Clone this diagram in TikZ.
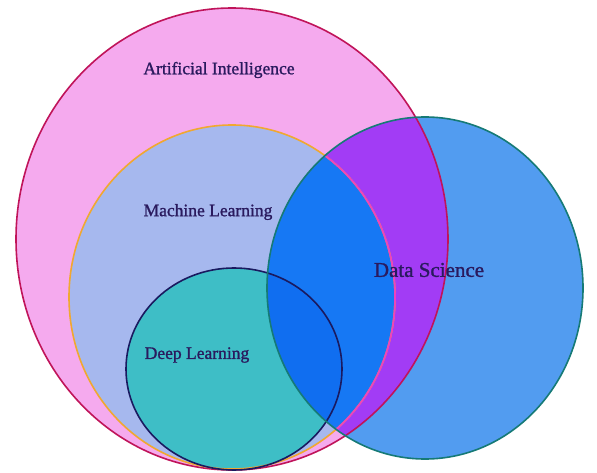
\documentclass[tikz,border=0pt]{standalone}
\usepackage{fontspec}
\setmainfont{Liberation Serif}
\newfontfamily\lblfont{Liberation Serif}[RawFeature={embolden=1.2}]
\definecolor{aifill}{HTML}{F5AAEE}
\definecolor{ailine}{HTML}{C0145A}
\definecolor{mlfill}{HTML}{A6B8EE}
\definecolor{mlline}{HTML}{F0A830}
\definecolor{mlinner}{HTML}{F040C0}
\definecolor{dlfill}{HTML}{3EBEC6}
\definecolor{dlline}{HTML}{1A1A60}
\definecolor{dsfill}{HTML}{529CF0}
\definecolor{dsline}{HTML}{167A76}
\definecolor{dsml}{HTML}{1678F4}
\definecolor{dsdl}{HTML}{106EF0}
\definecolor{dsai}{HTML}{A23CF5}
\definecolor{txt}{HTML}{2A1A5E}
\begin{document}
\begin{tikzpicture}[x=1pt,y=-1pt,
  lbl/.style={text=txt,font=\lblfont\fontsize{17.5}{20}\selectfont,inner sep=0pt},
  bigl/.style={text=txt,font=\lblfont\fontsize{21}{24}\selectfont,inner sep=0pt},
  rim/.style={line width=1.6pt}]
\useasboundingbox (0,0) rectangle (597,473);
\fill[white] (0,0) rectangle (597,473);
\coordinate (cai) at (232,239);
\coordinate (cml) at (232,297);
\coordinate (cdl) at (234,369);
\coordinate (cds) at (425,288);
\def\aipath{(cai) ellipse [x radius=216,y radius=231]}
\def\mlpath{(cml) ellipse [x radius=163,y radius=172]}
\def\dlpath{(cdl) ellipse [x radius=108,y radius=101]}
\def\dspath{(cds) ellipse [x radius=158,y radius=171]}
% base fills
\fill[aifill] \aipath;
\fill[mlfill] \mlpath;
\fill[dlfill] \dlpath;
\fill[dsfill] \dspath;
% overlaps with data science
\begin{scope}
  \clip \dspath;
  \fill[dsai] \aipath;
  \fill[dsml] \mlpath;
  \fill[dsdl] \dlpath;
\end{scope}
% outlines
\draw[rim,ailine] \aipath;
\draw[rim,mlline] \mlpath;
\begin{scope}
  \clip \dspath;
  \draw[rim,mlinner] \mlpath;
\end{scope}
\draw[rim,dlline] \dlpath;
\draw[rim,dsline] \dspath;
% labels
\node[lbl] (ai) at (219,70) {Artificial Intelligence};
\node[lbl] (ml) at (208,212) {Machine Learning};
\node[lbl] (dl) at (197,355) {Deep Learning};
\node[bigl] (ds) at (429,270) {Data Science};
\end{tikzpicture}
\end{document}
